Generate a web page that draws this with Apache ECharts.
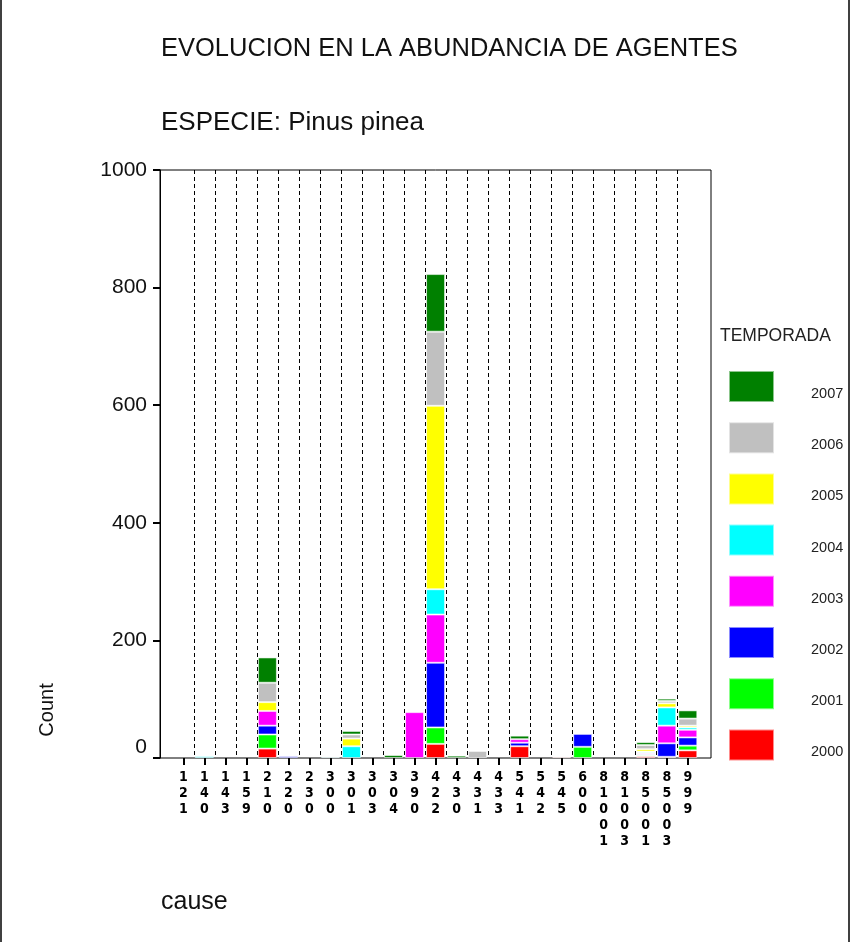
<!DOCTYPE html>
<html>
<head>
<meta charset="utf-8">
<script src="https://cdn.jsdelivr.net/npm/echarts@6/dist/echarts.min.js"></script>
<style>
html,body{margin:0;padding:0;background:#fff;}
#chart{width:861px;height:942px;}
</style>
</head>
<body>
<div id="chart"></div>
<script>
// ---- data ----
const categories = ['121','140','143','159','210','220','230','300','301','303','304','390','422','430','431','433','541','542','545','600','81001','81003','85001','85003','999'];
const years = ['2000','2001','2002','2003','2004','2005','2006','2007'];
const v2000 = [0,0,0,0,16,0,0,0,0,0,0,0,24,0,0,0,20,0,2,0,0,0,3,2,13];
const v2001 = [0,0,0,0,24,0,0,0,0,0,0,0,28,0,0,0,0,0,0,19,0,0,2,0,8];
const v2002 = [0,0,0,0,15,3,0,0,0,0,0,0,110,0,0,0,6,0,0,22,0,0,2,23,14];
const v2003 = [0,0,0,0,25,0,0,0,0,0,0,78,82,0,0,0,6,0,0,0,0,0,2,30,13];
const v2004 = [0,3,0,0,0,0,0,2,20,0,0,0,43,0,0,0,0,0,0,0,0,0,2,31,4];
const v2005 = [0,0,0,0,15,0,0,0,13,0,0,0,312,0,0,0,0,0,0,0,0,0,4,7,3];
const v2006 = [0,0,0,0,33,0,0,0,7,0,0,0,126,0,12,0,0,0,0,0,0,0,7,4,12];
const v2007 = [0,0,0,0,43,0,0,0,6,0,5,0,98,4,0,0,6,0,0,0,0,0,5,4,14];
const yTicks = {min:0, max:1000, interval:200};

const seriesValues = [v2000,v2001,v2002,v2003,v2004,v2005,v2006,v2007];
const colors = ['#FF0000','#00FF00','#0000FF','#FF00FF','#00FFFF','#FFFF00','#C0C0C0','#008000'];
const FONT = '"Liberation Sans", Arial, sans-serif';

const chart = echarts.init(document.getElementById('chart'), null, {renderer:'canvas'});

const series = years.map((y,i)=>({
  name: y,
  type: 'bar',
  stack: 'total',
  xAxisIndex: 1,
  yAxisIndex: 1,
  barWidth: 19,
  data: seriesValues[i].map(v => v === 0 ? '-' : v),
  itemStyle: {color: colors[i], borderColor: 'rgba(255,255,255,0.55)', borderWidth: 1},
  emphasis: {disabled: true},
  animation: false
}));

const option = {
  animation: false,
  textStyle: {fontFamily: FONT},
  grid: [
    {left:160, top:170, width:551, height:588, show:true, borderColor:'#000', borderWidth:1, backgroundColor:'transparent'},
    {left:172.8, top:170, width:525.5, height:588}
  ],
  xAxis: [
    {gridIndex:0, type:'category', data:[], show:false},
    {gridIndex:1, type:'category', data:categories,
     axisLine:{show:false},
     axisTick:{show:true, alignWithLabel:true, interval:0, length:7, lineStyle:{color:'#000', width:2}},
     splitLine:{show:true, interval:0, showMinLine:false, showMaxLine:false, lineStyle:{color:'#000', width:1, type:[4,3]}},
     axisLabel:{interval:0, margin:11, color:'#000', fontSize:14, fontWeight:'bold', lineHeight:16,
       fontFamily:'"Liberation Sans Narrow", "DejaVu Sans Condensed", sans-serif',
       formatter: v => v.split('').join('\n')}
    }
  ],
  yAxis: [
    {gridIndex:0, type:'value', min:yTicks.min, max:yTicks.max, interval:yTicks.interval,
     axisLine:{show:true, lineStyle:{color:'#000', width:1}},
     axisTick:{show:true, length:7, lineStyle:{color:'#000', width:2}},
     splitLine:{show:false},
     axisLabel:{margin:13, fontSize:21, color:'#111', fontFamily:FONT, verticalAlignMinLabel:'bottom',
       formatter: v => String(v)}
    },
    {gridIndex:1, type:'value', min:yTicks.min, max:yTicks.max, interval:yTicks.interval, show:false, splitLine:{show:false}}
  ],
  legend: {
    orient:'vertical', left:728, top:370, padding:0, itemWidth:45, itemHeight:31, itemGap:18.2,
    icon:'rect', selectedMode:false,
    data: years.slice().reverse(),
    formatter: name => '{t|' + name + '}',
    textStyle:{fontSize:14.5, color:'#222', fontFamily:FONT,
      rich:{t:{fontSize:14.5, color:'#222', fontFamily:FONT, lineHeight:15, padding:[15,0,0,32]}}}
  },
  graphic: [
    {type:'text', left:161, top:36, style:{text:'EVOLUCION EN LA ABUNDANCIA DE AGENTES', font:'25.5px '+FONT, fill:'#111'}},
    {type:'text', left:161, top:110, style:{text:'ESPECIE: Pinus pinea', font:'26px '+FONT, fill:'#111'}},
    {type:'text', left:720, top:327, style:{text:'TEMPORADA', font:'17.5px '+FONT, fill:'#222'}},
    {type:'text', x:47, y:710, rotation:Math.PI/2, style:{text:'Count', font:'20px '+FONT, fill:'#111', textAlign:'center', textVerticalAlign:'middle'}},
    {type:'text', left:161, top:890, style:{text:'cause', font:'25px '+FONT, fill:'#111'}},
    {type:'line', shape:{x1:1, y1:0, x2:1, y2:942}, style:{stroke:'#000', lineWidth:1.5}},
    {type:'line', shape:{x1:849, y1:0, x2:849, y2:942}, style:{stroke:'#000', lineWidth:1.5}}
  ],
  series: series
};
chart.setOption(option);
</script>
</body>
</html>
